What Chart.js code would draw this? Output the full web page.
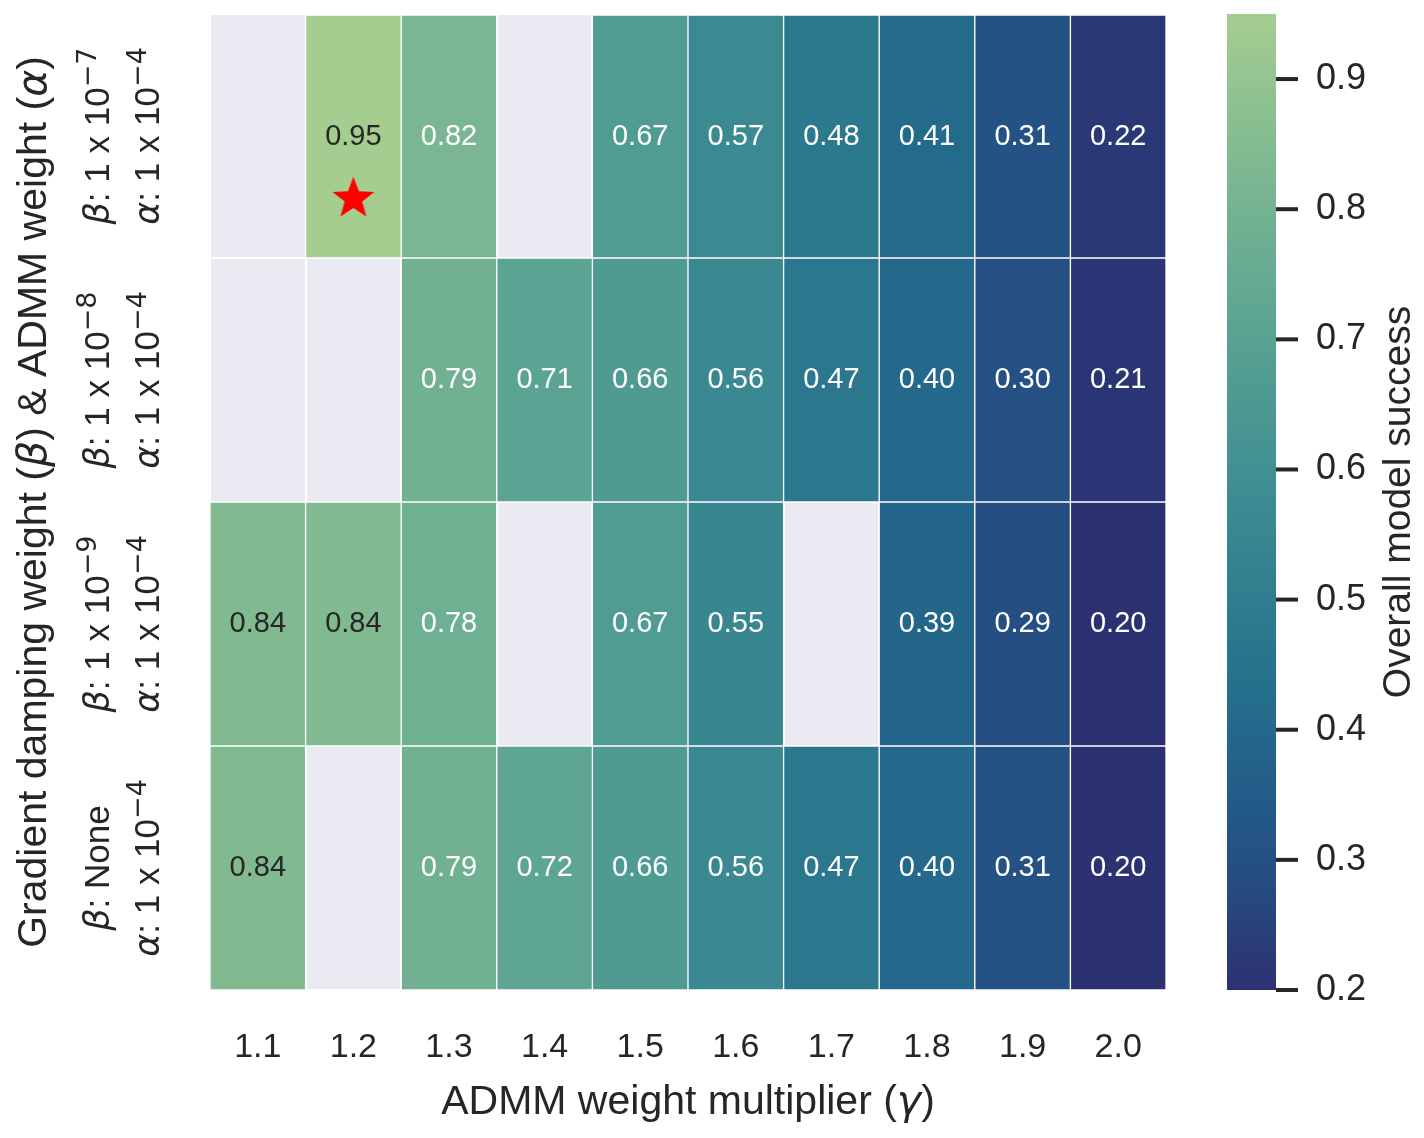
<!DOCTYPE html>
<html>
<head>
<meta charset="utf-8">
<script src="https://cdn.jsdelivr.net/npm/chart.js@4"></script>
<style>
  html, body { margin: 0; padding: 0; background: #fff; }
</style>
</head>
<body>
<canvas id="heat" width="1424" height="1138"></canvas>
<script>
// ADMM weight multiplier (gamma) - columns
const gammas = ['1.1', '1.2', '1.3', '1.4', '1.5', '1.6', '1.7', '1.8', '1.9', '2.0'];

// overall model success per row (top to bottom), null = no run
const successBeta7 = [null, 0.95, 0.82, null, 0.67, 0.57, 0.48, 0.41, 0.31, 0.22];
const successBeta8 = [null, null, 0.79, 0.71, 0.66, 0.56, 0.47, 0.40, 0.30, 0.21];
const successBeta9 = [0.84, 0.84, 0.78, null, 0.67, 0.55, null, 0.39, 0.29, 0.20];
const successNone  = [0.84, null, 0.79, 0.72, 0.66, 0.56, 0.47, 0.40, 0.31, 0.20];

// row labels: [mantissa text, exponent]
const betaLabels  = [['1 x 10', '\u22127'], ['1 x 10', '\u22128'], ['1 x 10', '\u22129'], ['None', null]];
const alphaLabels = [['1 x 10', '\u22124'], ['1 x 10', '\u22124'], ['1 x 10', '\u22124'], ['1 x 10', '\u22124']];

// colorbar
const cbarTicks = [0.2, 0.3, 0.4, 0.5, 0.6, 0.7, 0.8, 0.9];
const vmin = 0.2;
const vmax = 0.95;

// best run marker
const starX = ['1.2'];
const starY = [0.75];

// seaborn "crest", low -> high
const crestStops = ['#2c3172', '#264a80', '#225c88', '#256e8c', '#2f7d8f', '#3d8b91',
                    '#4c9992', '#5fa692', '#74b392', '#8cc091', '#a5cd90'];

const TXT = '#262626';
const SANS = '"Liberation Sans", Arial, sans-serif';

function hexRgb(h) {
    return [parseInt(h.slice(1, 3), 16), parseInt(h.slice(3, 5), 16), parseInt(h.slice(5, 7), 16)];
}

function cmapRgb(v) {
    let t = (v - vmin) / (vmax - vmin);
    t = Math.max(0, Math.min(1, t));
    const pos = t * (crestStops.length - 1);
    const i = Math.min(Math.floor(pos), crestStops.length - 2);
    const f = pos - i;
    const a = hexRgb(crestStops[i]), b = hexRgb(crestStops[i + 1]);
    return a.map((c, k) => Math.round(c + (b[k] - c) * f));
}

function cmap(v) {
    const c = cmapRgb(v);
    return `rgb(${c[0]},${c[1]},${c[2]})`;
}

// same rule seaborn uses to pick annotation colour
function luminance(rgb) {
    const lin = rgb.map(c => {
        c = c / 255;
        return c <= 0.03928 ? c / 12.92 : Math.pow((c + 0.055) / 1.055, 2.4);
    });
    return 0.2126 * lin[0] + 0.7152 * lin[1] + 0.0722 * lin[2];
}

// filled 5 point star for the marker
function makeStar(size) {
    const c = document.createElement('canvas');
    c.width = size; c.height = size;
    const g = c.getContext('2d');
    const cx = size / 2, cy = size / 2 + size * 0.04;
    const R = size / 2, r = R * 0.42;
    g.beginPath();
    for (let k = 0; k < 10; k++) {
        const ang = -Math.PI / 2 + k * Math.PI / 5;
        const rad = k % 2 === 0 ? R : r;
        g.lineTo(cx + rad * Math.cos(ang), cy + rad * Math.sin(ang));
    }
    g.closePath();
    g.fillStyle = '#ff0000';
    g.fill();
    return c;
}

const rows = [successBeta7, successBeta8, successBeta9, successNone];

const datasets = rows.map((vals, r) => ({
    type: 'bar',
    label: 'row' + r,
    data: vals.map(v => (v === null ? null : [r, r + 1])),
    values: vals,
    backgroundColor: ctx => (vals[ctx.dataIndex] === null ? 'rgba(0,0,0,0)' : cmap(vals[ctx.dataIndex])),
    borderColor: '#ffffff',
    borderWidth: 1,
    borderSkipped: false,
    grouped: false,
    barPercentage: 1,
    categoryPercentage: 1,
    order: 2
}));

datasets.push({
    type: 'scatter',
    label: 'best',
    data: starX.map((x, i) => ({ x: x, y: starY[i] })),
    pointStyle: makeStar(44),
    order: 1
});

// draw a run of text pieces, centred on (0,0) of the current transform
function drawRich(ctx, parts, size) {
    const fontOf = p => {
        if (p.sup) return `${Math.round(size * 0.78)}px "DejaVu Sans", sans-serif`;
        if (p.it) return `italic ${size}px "DejaVu Sans", sans-serif`;
        return `${size}px ${SANS}`;
    };
    let w = 0;
    parts.forEach(p => { ctx.font = fontOf(p); p.w = ctx.measureText(p.t).width; w += p.w; });
    let x = -w / 2;
    parts.forEach(p => {
        ctx.font = fontOf(p);
        ctx.fillText(p.t, x, p.sup ? -size * 0.36 : 0);
        x += p.w;
    });
}

function labelParts(sym, lab) {
    const parts = [{ t: sym, it: true }, { t: ': ' + lab[0] }];
    if (lab[1]) parts.push({ t: lab[1], sup: true });
    return parts;
}

const decor = {
    id: 'decor',
    beforeDraw(chart) {
        const { ctx, chartArea: a } = chart;
        ctx.save();
        ctx.fillStyle = '#eaeaf2';
        ctx.fillRect(a.left, a.top, a.right - a.left, a.bottom - a.top);
        ctx.restore();
    },
    afterDatasetsDraw(chart) {
        const ctx = chart.ctx;
        ctx.save();
        ctx.textAlign = 'center';
        ctx.textBaseline = 'middle';
        ctx.font = `29px ${SANS}`;
        chart.data.datasets.forEach((ds, di) => {
            if (!ds.values) return;
            chart.getDatasetMeta(di).data.forEach((bar, i) => {
                const v = ds.values[i];
                if (v === null) return;
                ctx.fillStyle = luminance(cmapRgb(v)) > 0.408 ? TXT : '#ffffff';
                ctx.fillText(v.toFixed(2), bar.x, (bar.y + bar.base) / 2);
            });
        });
        ctx.restore();
    },
    afterDraw(chart) {
        const { ctx, chartArea: a, scales } = chart;
        const y = scales.y;
        ctx.save();
        ctx.fillStyle = TXT;
        ctx.textBaseline = 'alphabetic';
        ctx.textAlign = 'left';

        // row tick labels, rotated
        rows.forEach((vals, r) => {
            const cy = y.getPixelForValue(r + 0.5);
            ctx.save();
            ctx.translate(109, cy);
            ctx.rotate(-Math.PI / 2);
            drawRich(ctx, labelParts('\u03b2', betaLabels[r]), 35);
            ctx.restore();
            ctx.save();
            ctx.translate(159, cy);
            ctx.rotate(-Math.PI / 2);
            drawRich(ctx, labelParts('\u03b1', alphaLabels[r]), 35);
            ctx.restore();
        });

        // y axis title
        ctx.save();
        ctx.translate(46, (a.top + a.bottom) / 2);
        ctx.rotate(-Math.PI / 2);
        drawRich(ctx, [{ t: 'Gradient damping weight (' }, { t: '\u03b2', it: true },
                       { t: ') & ADMM weight (' }, { t: '\u03b1', it: true }, { t: ')' }], 41);
        ctx.restore();

        // x axis title
        ctx.save();
        ctx.translate((a.left + a.right) / 2, 1114);
        drawRich(ctx, [{ t: 'ADMM weight multiplier (' }, { t: '\u03b3', it: true }, { t: ')' }], 41);
        ctx.restore();

        // colorbar
        const cbL = 1227, cbR = 1276;
        const pix = v => a.bottom - (v - vmin) / (vmax - vmin) * (a.bottom - a.top);
        for (let py = a.top; py < a.bottom; py++) {
            const v = vmin + (a.bottom - py - 0.5) / (a.bottom - a.top) * (vmax - vmin);
            ctx.fillStyle = cmap(v);
            ctx.fillRect(cbL, py, cbR - cbL, 1);
        }
        ctx.strokeStyle = TXT;
        ctx.lineWidth = 4;
        ctx.fillStyle = TXT;
        ctx.font = `36px ${SANS}`;
        ctx.textBaseline = 'middle';
        cbarTicks.forEach(t => {
            const py = pix(t);
            ctx.beginPath();
            ctx.moveTo(cbR, py);
            ctx.lineTo(cbR + 22, py);
            ctx.stroke();
            ctx.fillText(t.toFixed(1), 1316, py);
        });
        ctx.textBaseline = 'alphabetic';
        ctx.translate(1410, (a.top + a.bottom) / 2);
        ctx.rotate(-Math.PI / 2);
        drawRich(ctx, [{ t: 'Overall model success' }], 39);
        ctx.restore();
        ctx.restore();
    }
};

new Chart(document.getElementById('heat'), {
    type: 'bar',
    data: { labels: gammas, datasets: datasets },
    options: {
        responsive: false,
        devicePixelRatio: 1,
        animation: false,
        layout: { padding: { top: 14, right: 258, bottom: 0, left: 0 } },
        plugins: { legend: { display: false }, tooltip: { enabled: false } },
        scales: {
            x: {
                type: 'category',
                offset: true,
                grid: { color: '#ffffff', lineWidth: 2, offset: true, drawTicks: false },
                border: { display: false },
                ticks: { color: TXT, font: { size: 34, family: SANS }, padding: 37 },
                afterFit: s => { s.height = 148; }
            },
            y: {
                type: 'linear',
                min: 0,
                max: 4,
                reverse: true,
                grid: { color: '#ffffff', lineWidth: 2, drawTicks: false },
                border: { display: false },
                ticks: { display: false, stepSize: 1 },
                afterFit: s => { s.width = 210; }
            }
        }
    },
    plugins: [decor]
});
</script>
</body>
</html>
